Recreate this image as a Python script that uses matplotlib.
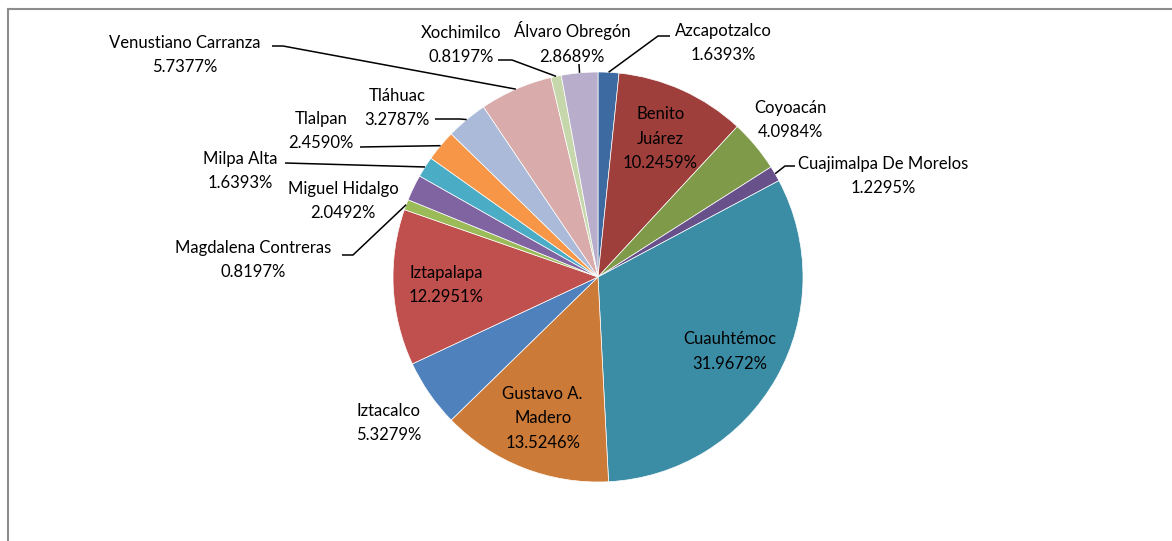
import numpy as np
import matplotlib
matplotlib.use("Agg")
import matplotlib.pyplot as plt
from matplotlib.lines import Line2D

# ---- data ----
labels = ["Azcapotzalco", "Benito\nJuárez", "Coyoacán", "Cuajimalpa De Morelos",
          "Cuauhtémoc", "Gustavo A.\nMadero", "Iztacalco", "Iztapalapa",
          "Magdalena Contreras", "Miguel Hidalgo", "Milpa Alta", "Tlalpan",
          "Tláhuac", "Venustiano Carranza", "Xochimilco", "Álvaro Obregón"]
values = [1.6393, 10.2459, 4.0984, 1.2295, 31.9672, 13.5246, 5.3279, 12.2951,
          0.8197, 2.0492, 1.6393, 2.4590, 3.2787, 5.7377, 0.8197, 2.8689]
colors = ["#3D6AA0", "#9E3F3C", "#7F9A48", "#68508A", "#3B8CA5", "#CC7A37",
          "#4F81BD", "#C0504D", "#9BBB59", "#8064A2", "#4BACC6", "#F79646",
          "#AABAD8", "#D9ABAA", "#C6D7AB", "#B8AECB"]
inside = {1, 4, 5, 7}

# ---- layout (pixel coordinates, y from top) ----
W, H = 1172, 541
CX, CY, R = 598, 277, 205
# outside label centres
out_pos = {0: (723, 43), 2: (790, 120), 3: (883, 176), 6: (389, 423),
           8: (253, 260), 9: (343, 201), 10: (240, 171), 11: (321, 131),
           12: (397, 108), 13: (185, 55), 14: (461, 45), 15: (572, 43)}
# leader line start points (near labels)
leaders = {0: [(670, 36), (658, 36)], 3: [(795, 166), (785, 166)],
           8: [(342, 255), (353, 255)], 10: [(285, 163)], 11: [(360, 147)],
           12: [(435, 119), (460, 119)], 13: [(272, 46), (283, 46)],
           14: [(498, 60), (512, 60)], 15: [(579, 64)]}

plt.rcParams['font.family'] = ['Lato', 'DejaVu Sans']
fig = plt.figure(figsize=(W / 100, H / 100), dpi=100)
ax = fig.add_axes([0, 0, 1, 1])

def Y(y):
    return H - y

wedges, _ = ax.pie(values, colors=colors, startangle=90, counterclock=False,
                   center=(CX, Y(CY)), radius=R, frame=True,
                   wedgeprops=dict(edgecolor="white", linewidth=0.5))
ax.set_xlim(0, W)
ax.set_ylim(0, H)
ax.set_aspect('equal')
ax.axis('off')

fs = 12
ls = 1.65
for i, (w, lab, v) in enumerate(zip(wedges, labels, values)):
    txt = f"{lab}\n{v:.4f}%"
    mid = np.deg2rad((w.theta1 + w.theta2) / 2)
    if i in inside:
        f = 0.74
        x = CX + f * R * np.cos(mid)
        y = Y(CY) + f * R * np.sin(mid)
        ax.text(x, y, txt, ha='center', va='center', fontsize=fs,
                color='black', linespacing=ls)
    else:
        x, y = out_pos[i]
        ax.text(x, Y(y), txt, ha='center', va='center', fontsize=fs,
                color='black', linespacing=ls)
        if i in leaders:
            pts = [(px, Y(py)) for px, py in leaders[i]]
            ex = CX + R * np.cos(mid)
            ey = Y(CY) + R * np.sin(mid)
            pts.append((ex, ey))
            xs, ys = zip(*pts)
            ax.plot(xs, ys, color='black', lw=1.1, solid_capstyle='butt')

# chart-area border (top and left visible)
fig.add_artist(Line2D([8 / W, 1], [1 - 9 / H, 1 - 9 / H], color='#8C8C8C', lw=1.5,
                      transform=fig.transFigure))
fig.add_artist(Line2D([8 / W, 8 / W], [0, 1 - 9 / H], color='#8C8C8C', lw=1.5,
                      transform=fig.transFigure))

fig.savefig("out.png", dpi=100, facecolor='white')
